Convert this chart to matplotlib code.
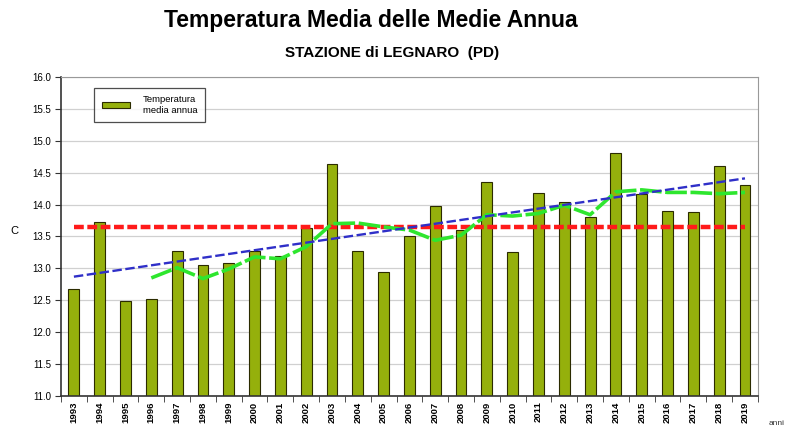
import numpy as np
import matplotlib
matplotlib.use("Agg")
import matplotlib.pyplot as plt
from matplotlib.ticker import FixedLocator, NullFormatter

plt.rcParams['font.family'] = ['Liberation Sans', 'DejaVu Sans']

# Values
years = [str(y) for y in range(1993, 2020)]
temp_media = [12.68, 13.72, 12.49, 12.52, 13.27, 13.05, 13.08, 13.27, 13.19, 13.64,
              14.64, 13.27, 12.94, 13.51, 13.97, 13.60, 14.35, 13.25, 14.18, 14.04,
              13.81, 14.81, 14.17, 13.90, 13.88, 14.61, 14.31]
# moving average (starts in 1996)
media_mobile = [np.nan, np.nan, np.nan,
                12.85, 13.01, 12.84, 12.99, 13.18, 13.15, 13.34,
                13.70, 13.71, 13.65, 13.60, 13.44, 13.52, 13.84, 13.82, 13.86, 13.99,
                13.84, 14.20, 14.23, 14.19, 14.19, 14.17, 14.19]
media_periodo = 13.65
trend_ends = [12.87, 14.41]  # linear trend 1993 -> 2019

x = np.arange(len(years))

fig = plt.figure(figsize=(7.86, 4.32), dpi=100)
ax = fig.add_axes([0.0776, 0.0833, 0.8866, 0.7387])

ax.bar(x, temp_media, width=0.42, bottom=0, color='#95b00c', edgecolor='#2b2b00',
       linewidth=0.8, zorder=2, label='Temperatura\nmedia annua')
ax.plot([x[0], x[-1]], [media_periodo, media_periodo], color='#ff1a1a', lw=3.2,
        ls=(0, (2.2, 0.8)), zorder=3)
ax.plot(x, media_mobile, color='#2ee62e', lw=2.6, ls=(0, (6, 1)), zorder=4)
ax.plot([x[0], x[-1]], trend_ends, color='#2f2fc8', lw=1.7, ls=(0, (4, 1.5)), zorder=5)

ax.set_ylim(11.0, 16.0)
ax.set_xlim(-0.5, len(years) - 0.5)
ax.set_yticks(np.arange(11.0, 16.01, 0.5))
ax.set_yticklabels([f"{v:.1f}" for v in np.arange(11.0, 16.01, 0.5)], fontsize=7)
ax.yaxis.grid(True, color='#d0d0d0', lw=0.9, zorder=0)
ax.set_axisbelow(True)

ax.set_xticks(x)
ax.set_xticklabels(years, rotation=90, fontsize=6.8, fontweight='bold')
ax.tick_params(axis='x', which='major', length=0, pad=4)
ax.xaxis.set_minor_locator(FixedLocator(np.arange(-0.5, len(years), 1.0)))
ax.xaxis.set_minor_formatter(NullFormatter())
ax.tick_params(axis='x', which='minor', length=4, color='#333333')
ax.tick_params(axis='y', length=4, color='#333333', pad=3)

for side in ['top', 'right']:
    ax.spines[side].set_color('#999999')
for side in ['left', 'bottom']:
    ax.spines[side].set_color('#333333')
    ax.spines[side].set_linewidth(1.2)

leg = ax.legend(loc='upper left', bbox_to_anchor=(0.048, 0.965), fontsize=6.8,
                frameon=True, fancybox=False, edgecolor='#222222',
                handlelength=3.0, handleheight=0.45, borderpad=0.75,
                handletextpad=1.4, borderaxespad=0)
leg.get_frame().set_linewidth(0.9)

fig.text(0.013, 0.465, "C", fontsize=8, va='center', ha='left')
fig.text(0.472, 0.953, "Temperatura Media delle Medie Annua", fontsize=16.5,
         fontweight='bold', ha='center', va='center')
fig.text(0.499, 0.878, "STAZIONE di LEGNARO  (PD)", fontsize=11,
         fontweight='bold', ha='center', va='center')
fig.text(0.978, 0.012, "anni", fontsize=6, ha='left', va='bottom', color='#333333')

fig.savefig("out.png", dpi=100, facecolor='white')
